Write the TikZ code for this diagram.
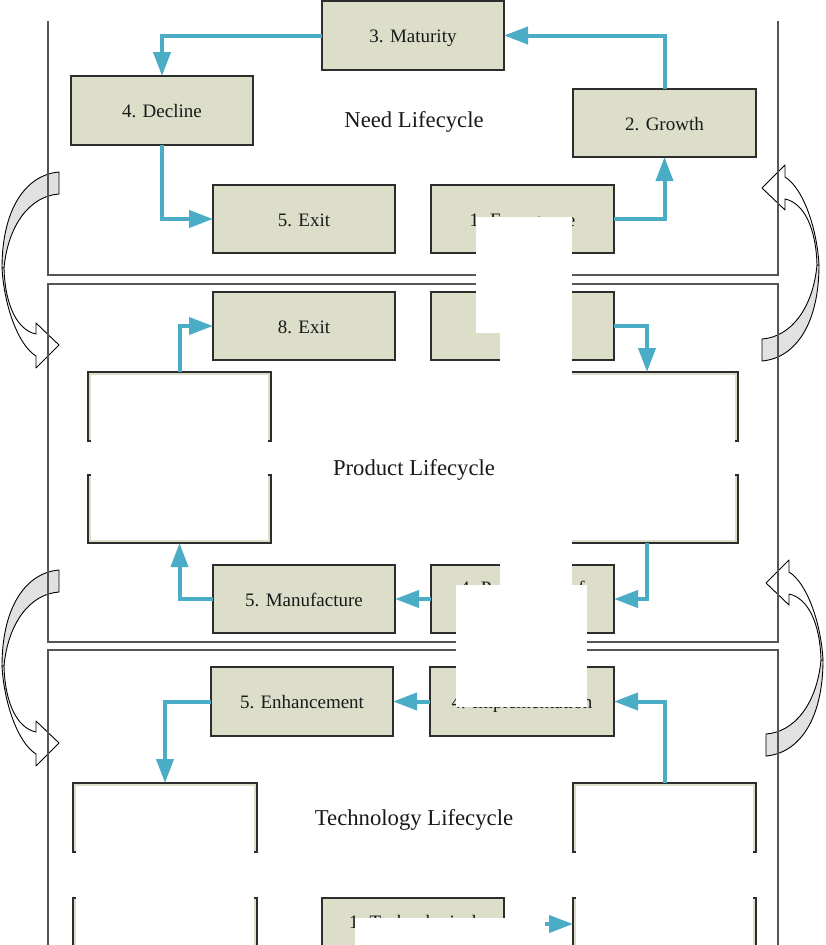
\documentclass[tikz,border=0pt]{standalone}
\usepackage{fontspec}
\setmainfont{Liberation Serif}
\usetikzlibrary{arrows.meta}
\definecolor{boxfill}{RGB}{221,222,202}
\definecolor{boxline}{RGB}{45,45,45}
\definecolor{flowc}{RGB}{75,172,198}
\definecolor{panelc}{RGB}{85,85,85}
\definecolor{curvegray}{RGB}{225,225,225}
\newcommand\bentarrow{%
  \filldraw[curveline, fill=curvegray] (59,172) .. controls (25,175) and (2,210) .. (2,268)
     -- (4,268) .. controls (8,225) and (30,196) .. (59,194) -- cycle;
  \filldraw[curveline, fill=white] (4,268) .. controls (5,305) and (17,330) .. (36,334)
     -- (36,323) -- (59,345) -- (36,368) -- (36,356)
     .. controls (18,345) and (4,305) .. (2,268) -- cycle;}
\begin{document}
\begin{tikzpicture}[x=1pt,y=-1pt,
  stage/.style={draw=boxline, line width=1.5pt, fill=boxfill, minimum width=182pt,
     minimum height=68pt, inner sep=0pt, outer sep=0pt, text height=18pt, text depth=4pt,
     font=\fontsize{19}{22}\selectfont, text=black!90},
  flow/.style={draw=flowc, line width=4pt, -{Triangle[length=24pt,width=17pt]}},
  panel/.style={draw=panelc, line width=1.3pt},
  title/.style={font=\fontsize{22.7}{26}\selectfont, text=black!90, inner sep=0pt,
     text height=20pt, text depth=5pt},
  lbl/.style={font=\fontsize{19}{22}\selectfont, text=black!90, inner sep=0pt, anchor=base},
  mask/.style={fill=white, draw=none},
  curveline/.style={draw=black, line width=0.9pt, line join=round}]
\useasboundingbox (0,0) rectangle (826,945);

% curved hand-over arrows
\begin{scope}\bentarrow\end{scope}
\begin{scope}[shift={(0,398)}]\bentarrow\end{scope}
\begin{scope}[shift={(821,533)}, rotate=180]\bentarrow\end{scope}
\begin{scope}[shift={(825,928)}, rotate=180]\bentarrow\end{scope}

% panels
\draw[panel] (48,21) -- (48,275) -- (778,275) -- (778,21);
\draw[panel] (48,284) rectangle (778,642);
\draw[panel] (48,945) -- (48,650) -- (778,650) -- (778,945);

% Need lifecycle
\node[stage, minimum height=69pt] (n3) at (413,35.5) {3. Maturity};
\node[stage, minimum height=69pt] (n4) at (162,110.5) {4. Decline};
\node[stage] (n5) at (304,219) {5. Exit};
\node[stage, minimum width=183pt] (n1) at (522.5,219) {1. Emergence};
\node[stage, minimum width=183pt] (n2) at (664.5,123) {2. Growth};
\node[title] (tn) at (414,120) {Need Lifecycle};
\draw[flow] (n3.west) -| (n4.north);
\draw[flow] (n2.north) |- (n3.east);
\draw[flow] (n4.south) |- (n5.west);
\draw[flow] (n1.east) -| (n2.south);

% Product lifecycle
\node[stage] (p8) at (304,326) {8. Exit};
\node[stage, minimum width=183pt] (p1) at (522.5,326) {};
\node[stage, minimum width=183pt, minimum height=69pt] (p7) at (179.5,406.5) {};
\node[stage, minimum width=183pt] (p6) at (179.5,509) {};
\node[stage, minimum height=69pt] (p2) at (647,406.5) {};
\node[stage] (p3) at (647,509) {};
\node[stage, minimum width=183pt] (p4) at (522.5,599) {};
\node[lbl] (p4t) at ([yshift=4.5pt]p4.center) {4. Production of};
\node[stage] (p5) at (304,599) {5. Manufacture};
\node[title] (tp) at (414,468) {Product Lifecycle};
\draw[flow] (p1.east) -| (p2.north);
\draw[flow] (p3.south) |- (p4.east);
\draw[flow] (p4.west) -- (p5.east);
\draw[flow] (p5.west) -| (p6.south);
\draw[flow] (p7.north) |- (p8.west);

% Technology lifecycle
\node[stage, minimum height=69pt] (t5) at (302,701.5) {5. Enhancement};
\node[stage, minimum width=184pt, minimum height=69pt] (t4) at (522,701.5) {4. Implementation};
\node[stage, minimum width=184pt, minimum height=69pt] (t6) at (165,817.5) {};
\node[stage, minimum width=184pt] (tlb) at (165,932) {};
\node[stage, minimum width=183pt, minimum height=69pt] (t3) at (664.5,817.5) {};
\node[stage, minimum width=183pt] (trb) at (664.5,932) {};
\node[stage] (t1) at (413,932) {};
\node[lbl] (t1t) at ([yshift=4pt]t1.center) {1. Technological};
\node[title] (tt) at (414,818) {Technology Lifecycle};
\draw[flow] (t4.west) -- (t5.east);
\draw[flow] (t5.west) -| (t6.north);
\draw[flow] (t3.north) |- (t4.east);
\draw[flow] ([yshift=8pt]t1.east) -- ([yshift=8pt]trb.west);

% white patches
\fill[mask] (476,217) rectangle (572,333);
\fill[mask] (500,333) rectangle (572,585);
\fill[mask] (456,585) rectangle (587,707);
\fill[mask] (355,918) rectangle (545,945);
\fill[mask] (91,375) rectangle (268,540);
\fill[mask] (572,375) rectangle (735,540);
\fill[mask] (76,786) rectangle (254,945);
\fill[mask] (576,786) rectangle (753,945);
\end{tikzpicture}
\end{document}
